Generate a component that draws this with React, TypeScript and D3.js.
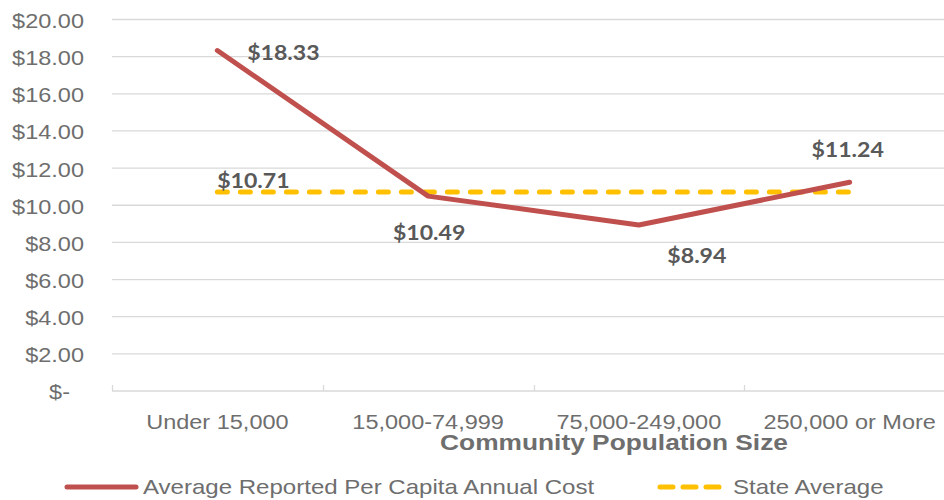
import React, { useEffect, useRef } from "react";
import * as d3 from "d3";

// chart data
const categories = ["Under 15,000", "15,000-74,999", "75,000-249,000", "250,000 or More"];
const perCapitaCost = [18.33, 10.49, 8.94, 11.24];
const stateAverage = 10.71;
const yTicks = [0, 2, 4, 6, 8, 10, 12, 14, 16, 18, 20];
const seriesNames = ["Average Reported Per Capita Annual Cost", "State Average"];

// label nudges (dx, dy from the point), like the hand-placed labels in the original
const labelOffsets = [
  [66, 9.5],
  [1, 44],
  [58, 38],
  [-2, -25],
];

const RED = "#C0504D";
const GOLD = "#FFC000";
const AXIS_GRAY = "#6e6e6e";
const LABEL_GRAY = "#595959";
const GRID = "#d9d9d9";
const SX = 1.12; // the original text is a bit wide

const App = () => {
  const svgRef = useRef<SVGSVGElement>(null);

  useEffect(() => {
    const svg = d3.select(svgRef.current);
    svg.selectAll("*").remove();

    const width = 944;
    const left = 112;
    const right = 955;
    const top = 19.5;
    const bottom = 391;

    const x = d3.scaleBand().domain(categories).range([left, right]);
    const y = d3.scaleLinear().domain([0, 20]).range([bottom, top]);
    const cx = (c: string) => (x(c) as number) + x.bandwidth() / 2;

    // helper for stretched text
    const addText = (
      str: string,
      tx: number,
      ty: number,
      opts: { size: number; anchor?: string; bold?: boolean; fill?: string; family?: string; sx?: number }
    ) =>
      svg
        .append("text")
        .attr("transform", `translate(${tx},${ty}) scale(${opts.sx ?? SX},1)`)
        .attr("text-anchor", opts.anchor ?? "start")
        .style("font-family", opts.family ?? "'Liberation Sans', Arial, sans-serif")
        .style("font-size", opts.size + "px")
        .style("font-weight", opts.bold ? "bold" : "normal")
        .style("fill", opts.fill ?? AXIS_GRAY)
        .text(str);

    // gridlines
    svg
      .append("g")
      .selectAll("line")
      .data(yTicks)
      .join("line")
      .attr("x1", left)
      .attr("x2", width)
      .attr("y1", (d) => y(d))
      .attr("y2", (d) => y(d))
      .attr("stroke", GRID)
      .attr("stroke-width", 1.3);

    // category tick marks
    svg
      .append("g")
      .selectAll("line")
      .data(categories)
      .join("line")
      .attr("x1", (d) => Math.round(x(d) as number) + 0.5)
      .attr("x2", (d) => Math.round(x(d) as number) + 0.5)
      .attr("y1", bottom)
      .attr("y2", bottom - 6)
      .attr("stroke", GRID)
      .attr("stroke-width", 1.3);

    // y labels
    yTicks.forEach((t) => {
      if (t === 0) addText("$-", 70, y(t) + 8, { size: 21, anchor: "end" });
      else addText("$" + t.toFixed(2), 84, y(t) + 8.5, { size: 21, anchor: "end" });
    });

    // x labels
    categories.forEach((c) => addText(c, cx(c), 428.5, { size: 21, anchor: "middle" }));

    addText("Community Population Size", 614, 450, { size: 22.5, anchor: "middle", bold: true, sx: 1.17 });

    // state average line
    const first = categories[0];
    const last = categories[categories.length - 1];
    svg
      .append("line")
      .attr("x1", cx(first))
      .attr("x2", cx(last))
      .attr("y1", y(stateAverage))
      .attr("y2", y(stateAverage))
      .attr("stroke", GOLD)
      .attr("stroke-width", 5)
      .attr("stroke-dasharray", "10 13")
      .attr("stroke-linecap", "round");

    // main series
    const line = d3
      .line<number>()
      .x((_, i) => cx(categories[i]))
      .y((d) => y(d));

    svg
      .append("path")
      .datum(perCapitaCost)
      .attr("d", line)
      .attr("fill", "none")
      .attr("stroke", RED)
      .attr("stroke-width", 5)
      .attr("stroke-linecap", "round")
      .attr("stroke-linejoin", "round");

    // data labels
    const labelStyle = {
      size: 21,
      anchor: "middle",
      bold: true,
      fill: LABEL_GRAY,
      family: "Lato, 'Open Sans', sans-serif",
      sx: 1.1,
    };
    perCapitaCost.forEach((v, i) => {
      addText("$" + v.toFixed(2), cx(categories[i]) + labelOffsets[i][0], y(v) + labelOffsets[i][1], labelStyle);
    });
    addText("$" + stateAverage.toFixed(2), cx(first) + 36, y(stateAverage) - 4, labelStyle);

    // legend
    svg
      .append("line")
      .attr("x1", 67)
      .attr("x2", 136)
      .attr("y1", 487)
      .attr("y2", 487)
      .attr("stroke", RED)
      .attr("stroke-width", 5)
      .attr("stroke-linecap", "round");
    addText(seriesNames[0], 143, 494, { size: 21, sx: 1.145 });

    svg
      .append("line")
      .attr("x1", 660)
      .attr("x2", 720)
      .attr("y1", 487)
      .attr("y2", 487)
      .attr("stroke", GOLD)
      .attr("stroke-width", 5)
      .attr("stroke-dasharray", "13 10")
      .attr("stroke-linecap", "round");
    addText(seriesNames[1], 733, 494, { size: 21, sx: 1.145 });
  }, []);

  return (
    <svg
      ref={svgRef}
      width={944}
      height={500}
      style={{ position: "absolute", left: 0, top: 0, background: "#fff" }}
    ></svg>
  );
};

export default App;
